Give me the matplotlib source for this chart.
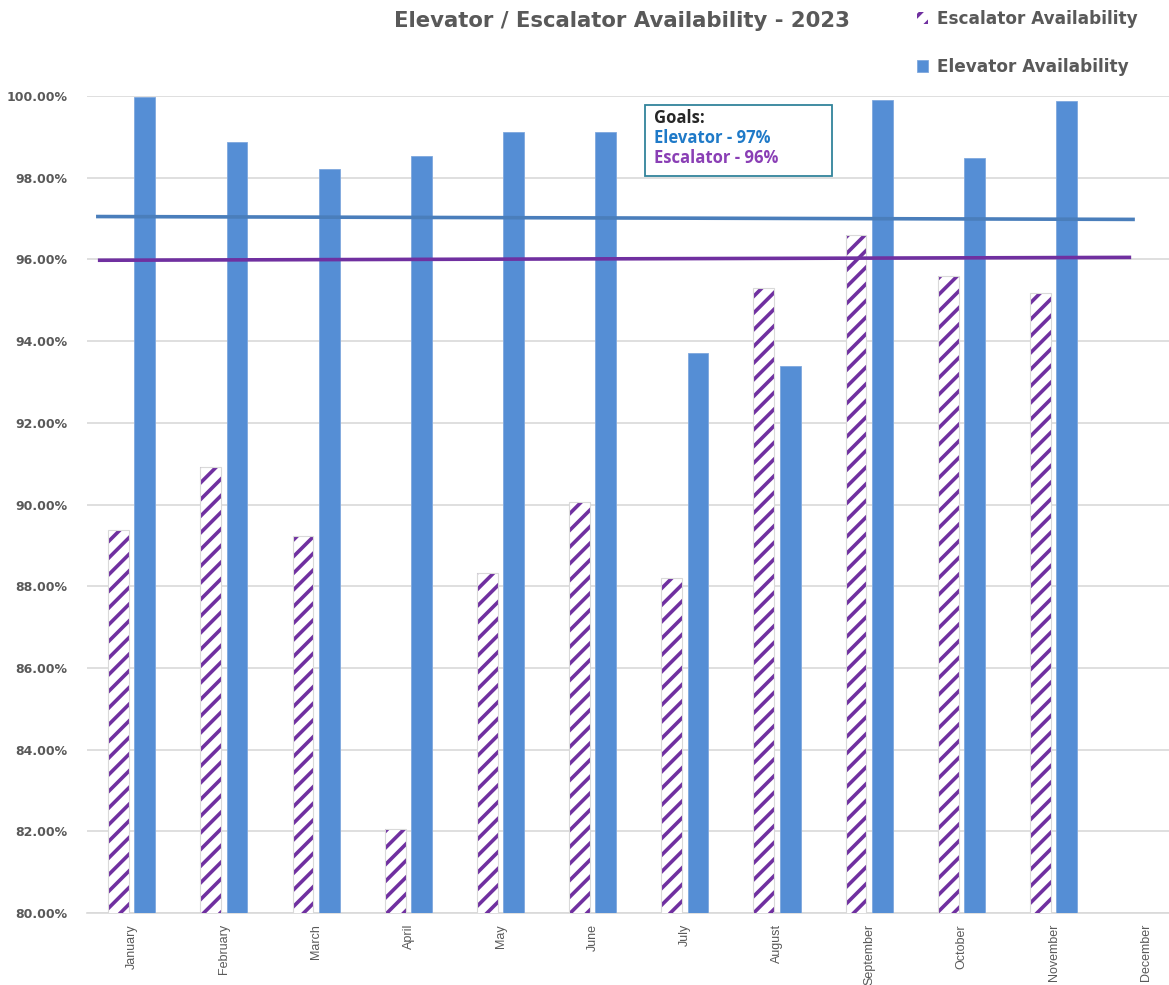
import numpy as np
import matplotlib.pyplot as plt
from matplotlib.patches import Rectangle
from matplotlib.ticker import FuncFormatter

plt.rcParams['hatch.linewidth'] = 2.6

months = ["January", "February", "March", "April", "May", "June", "July",
          "August", "September", "October", "November", "December"]
escalator = [89.38, 90.92, 89.23, 82.06, 88.32, 90.06, 88.20, 95.30, 96.60, 95.59, 95.18, np.nan]
elevator = [99.98, 98.87, 98.21, 98.53, 99.12, 99.12, 93.71, 93.39, 99.90, 98.48, 99.88, np.nan]
goal_elevator = 97
goal_escalator = 96

grey = '#595959'
blue = '#558ED5'
purple = '#7030A0'

fig = plt.figure(figsize=(11.69, 9.85), dpi=100)
ax = fig.add_axes([0.0744, 0.0731, 0.9256, 0.8294])

x = np.arange(len(months))
w = 0.225
ax.bar(x - 0.145, escalator, w, color='white', edgecolor=purple, hatch='//',
       linewidth=0, label='Escalator Availability', zorder=3)
ax.bar(x - 0.145, escalator, w, color='none', edgecolor='#d9d9d9',
       linewidth=0.8, zorder=3)
ax.bar(x + 0.14, elevator, w, color=blue, edgecolor='#7fa8de', linewidth=0.6,
       label='Elevator Availability', zorder=3)

# goal lines
ax.plot([-0.37, 10.86], [goal_elevator + 0.05, goal_elevator - 0.02], color='#4a7ebb', lw=2.6, zorder=4)
ax.plot([-0.35, 10.82], [goal_escalator - 0.02, goal_escalator + 0.05], color=purple, lw=2.6, zorder=4)

ax.set_xlim(-0.488, 11.25)
ax.set_ylim(80, 100)
ax.set_yticks(np.arange(80, 100.1, 2))
ax.yaxis.set_major_formatter(FuncFormatter(lambda v, p: f"{v:.2f}%"))
ax.grid(axis='y', color='#d9d9d9', lw=1.2, zorder=0)
ax.set_xticks(x)
ax.set_xticklabels(months, rotation=90, fontsize=9, color=grey,
                   family=['Liberation Sans', 'DejaVu Sans'])
ax.tick_params(axis='y', length=0, labelsize=9, labelcolor=grey, pad=14)
ax.tick_params(axis='x', length=0, pad=8)
for s in ['top', 'right', 'left']:
    ax.spines[s].set_visible(False)
ax.spines['bottom'].set_color('#d9d9d9')
ax.spines['bottom'].set_linewidth(1.2)
for lab in ax.get_yticklabels():
    lab.set_fontweight('bold')

fig.text(0.532, 0.979, "Elevator / Escalator Availability - 2023", ha='center', va='center',
         fontsize=15.3, fontweight='bold', color=grey, family='DejaVu Sans')

leg = fig.legend(loc='upper left', bbox_to_anchor=(0.771, 1.005), frameon=False,
                 labelcolor=grey, handlelength=0.7, handleheight=0.7,
                 handletextpad=0.5, labelspacing=1.75,
                 prop={'family': 'DejaVu Sans', 'weight': 'bold', 'size': 12.2})

# goals box
box = Rectangle((645 / 1169, 1 - 176 / 985), 187 / 1169, 71 / 985, transform=fig.transFigure,
                facecolor='white', edgecolor='#31849b', lw=1.3, zorder=5)
fig.add_artist(box)
goal_text = [("Goals:", '#262626', 118), ("Elevator - 97%", '#1f7ac8', 138),
             ("Escalator - 96%", '#8a3fb5', 158)]
for txt, col, ypx in goal_text:
    fig.text(654 / 1169, 1 - ypx / 985, txt, fontsize=12, fontweight='bold', color=col,
             va='center', family='Open Sans', zorder=6)

fig.savefig('out.png', dpi=100)
